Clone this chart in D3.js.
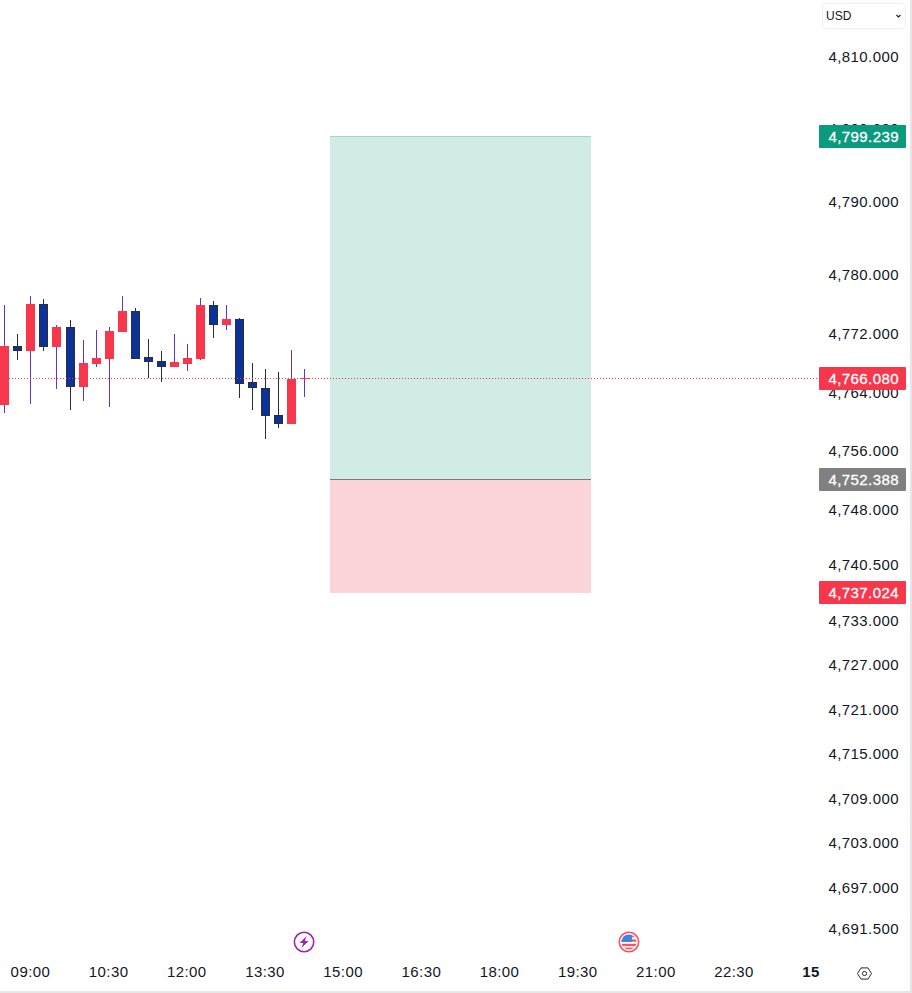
<!DOCTYPE html>
<html>
<head>
<meta charset="utf-8">
<script src="https://cdnjs.cloudflare.com/ajax/libs/d3/7.8.5/d3.min.js"></script>
<style>
  html, body { margin: 0; padding: 0; background: #fff; overflow: hidden; }
  svg { display: block; }
  text { font-family: "Liberation Sans", Arial, sans-serif; }
</style>
</head>
<body>
<svg id="chart" width="912" height="993"></svg>
<script>
// Fifteen-minute bars
const barTimes = ["08:30","08:45","09:00","09:15","09:30","09:45","10:00","10:15","10:30","10:45","11:00","11:15",
                  "11:30","11:45","12:00","12:15","12:30","12:45","13:00","13:15","13:30","13:45","14:00","14:15"];
const opens  = [4762.46,4770.52,4769.87,4776.25,4770.42,4773.11,4764.92,4768.06,4768.74,4772.43,4775.29,4769.01,
                4768.47,4767.65,4768.06,4768.74,4776.11,4773.38,4774.20,4765.60,4764.78,4761.10,4759.87,4766.01];
const highs  = [4776.11,4772.15,4777.34,4776.93,4773.38,4774.07,4771.34,4772.70,4773.11,4777.34,4775.70,4771.47,
                4769.83,4772.15,4770.79,4777.07,4776.66,4776.11,4774.34,4768.20,4767.38,4766.97,4769.97,4767.38];
const lows   = [4761.41,4768.61,4762.60,4769.87,4764.65,4761.78,4763.01,4767.65,4762.19,4772.43,4768.74,4766.15,
                4765.60,4767.65,4767.10,4768.61,4771.61,4772.70,4763.42,4761.78,4757.82,4759.32,4766.01,4763.55];
const closes = [4770.52,4769.87,4776.25,4770.42,4773.11,4764.96,4768.20,4768.88,4772.56,4775.29,4768.74,4768.33,
                4767.65,4768.33,4768.88,4776.11,4773.42,4774.20,4765.33,4764.78,4760.96,4759.87,4766.01,4766.08];

// Price axis and labelled levels
const priceTicks = [4810,4800,4790,4780,4772,4764,4756,4748,4740.5,4733,4727,4721,4715,4709,4703,4697,4691.5];
const lastPrice = 4766.08;
const targetPrice = 4799.239;
const entryPrice = 4752.388;
const stopPrice = 4737.024;

// Time axis labels: hours since midnight, 24 being the next day
const timeTickHours = [9,10.5,12,13.5,15,16.5,18,19.5,21,22.5,24];
const positionSpan = ["14:45","19:45"];
const eventTimes = ["14:15","20:29"];

const colors = { up:"#f7374c", down:"#0b3299", downEdge:"#2a2e39", upWick:"#6634c4", text:"#131722",
                 green:"#0a9a7d", gray:"#808080", greenZone:"#d1ebe6", redZone:"#fbd5d9", rule:"#e6e6e6" };

const svg = d3.select("#chart");
const plotRight = 819;

const dayAt = h => new Date(Date.UTC(2024, 0, 14, 0, h * 60));
const parseTime = s => { const [h, m] = s.split(":").map(Number); return dayAt(h + m / 60); };

const x = d3.scaleUtc().domain([dayAt(9), dayAt(24)]).range([30.43, 812.23]);
const y = d3.scaleLog().domain([4810, 4691.5]).range([57.7, 930]);
const snap = v => Math.round(v) + 0.5;

svg.append("defs").append("clipPath").attr("id", "plot-clip")
  .append("rect").attr("width", plotRight).attr("height", 993);

// Long position zones
const zones = svg.append("g").attr("clip-path", "url(#plot-clip)");
const zoneX0 = Math.round(x(parseTime(positionSpan[0]))), zoneX1 = Math.round(x(parseTime(positionSpan[1])));
const yTarget = Math.round(y(targetPrice)), yEntry = Math.round(y(entryPrice)), yStop = Math.round(y(stopPrice));
zones.append("rect").attr("x", zoneX0).attr("width", zoneX1 - zoneX0)
  .attr("y", yTarget).attr("height", yEntry - yTarget).attr("fill", colors.greenZone);
zones.append("rect").attr("x", zoneX0).attr("width", zoneX1 - zoneX0)
  .attr("y", yEntry).attr("height", yStop - yEntry + 1).attr("fill", colors.redZone);
zones.append("line").attr("x1", zoneX0).attr("x2", zoneX1)
  .attr("y1", yTarget + 0.5).attr("y2", yTarget + 0.5).attr("stroke", "#a4d8cd").attr("stroke-width", 1);
zones.append("line").attr("x1", zoneX0).attr("x2", zoneX1)
  .attr("y1", yEntry + 0.5).attr("y2", yEntry + 0.5).attr("stroke", "#787b80").attr("stroke-width", 1);

// Candlesticks
const bars = barTimes.map((t, i) => ({ t: parseTime(t), o: opens[i], h: highs[i], l: lows[i], c: closes[i] }));
const candles = svg.append("g").selectAll("g").data(bars).join("g")
  .attr("transform", d => `translate(${snap(x(d.t))},0)`);

candles.append("line")
  .attr("y1", d => Math.round(y(d.h))).attr("y2", d => Math.round(y(d.l)))
  .attr("stroke", d => d.c >= d.o ? colors.upWick : colors.downEdge).attr("stroke-width", 1);

candles.filter(d => d.c >= d.o).append("rect")
  .attr("x", -4.5).attr("width", 9)
  .attr("y", d => Math.round(y(d.c)))
  .attr("height", d => Math.max(1, Math.round(y(d.o)) - Math.round(y(d.c))))
  .attr("fill", colors.up);

candles.filter(d => d.c < d.o).append("rect")
  .attr("x", -4).attr("width", 8)
  .attr("y", d => Math.round(y(d.o)) + 0.5)
  .attr("height", d => Math.max(1, Math.round(y(d.c)) - Math.round(y(d.o)) - 1))
  .attr("fill", colors.down).attr("stroke", colors.downEdge).attr("stroke-width", 1);

// Last price line
svg.append("line").attr("x1", 0).attr("x2", plotRight)
  .attr("y1", snap(y(lastPrice) - 0.5)).attr("y2", snap(y(lastPrice) - 0.5))
  .attr("stroke", colors.up).attr("stroke-width", 1).attr("stroke-dasharray", "1 2");

// Price axis
const priceAxis = svg.append("g").attr("transform", "translate(899,-1.5)")
  .call(d3.axisLeft(y).tickValues(priceTicks).tickSize(0).tickPadding(0).tickFormat(d3.format(",.3f")));
priceAxis.select(".domain").remove();
priceAxis.selectAll("text")
  .attr("font-size", 15).attr("letter-spacing", 0.42).attr("fill", colors.text)
  .style("font-family", '"Liberation Sans", Arial, sans-serif');

// Price tags
const tags = [[targetPrice, colors.green], [lastPrice, colors.up], [entryPrice, colors.gray], [stopPrice, colors.up]];
const tagG = svg.append("g").selectAll("g").data(tags).join("g")
  .attr("transform", d => `translate(0,${Math.round(y(d[0]))})`);
tagG.append("rect").attr("x", 819).attr("width", 87).attr("y", -11).attr("height", 23).attr("rx", 1).attr("fill", d => d[1]);
tagG.append("text").attr("x", 899).attr("y", 6).attr("text-anchor", "end")
  .attr("font-size", 15).attr("letter-spacing", 0.42)
  .attr("fill", "#fff").attr("stroke", "#fff").attr("stroke-width", 0.3)
  .text(d => d3.format(",.3f")(d[0]));

// Time axis
const timeAxis = svg.append("g").attr("transform", "translate(0,966.5)")
  .call(d3.axisBottom(x).tickValues(timeTickHours.map(dayAt)).tickSize(0).tickPadding(0)
    .tickFormat(d => d.getUTCHours() === 0 ? d3.utcFormat("%-d")(d) : d3.utcFormat("%H:%M")(d)));
timeAxis.select(".domain").remove();
timeAxis.selectAll("text")
  .attr("font-size", 15).attr("letter-spacing", 0.42).attr("fill", colors.text)
  .style("font-family", '"Liberation Sans", Arial, sans-serif')
  .attr("font-weight", d => d.getUTCHours() === 0 ? 700 : 400)
  .attr("dx", d => d.getUTCHours() === 0 ? -1.7 : -0.5);

// Economic event markers
const eventY = 942;
const bolt = svg.append("g").attr("transform", `translate(${x(parseTime(eventTimes[0]))},${eventY})`);
bolt.append("circle").attr("r", 9.7).attr("fill", "#fff").attr("stroke", "#9c27b0").attr("stroke-width", 1.6);
bolt.append("path").attr("d", "M2.6,-6 L-4.6,1 L-0.8,1 L-2.6,6 L4.6,-1 L0.8,-1 Z").attr("fill", "#9c27b0");

const flag = svg.append("g").attr("transform", `translate(${x(parseTime(eventTimes[1]))},${eventY})`);
svg.select("defs").append("clipPath").attr("id", "flag-clip").append("circle").attr("r", 7.6);
flag.append("circle").attr("r", 9.7).attr("fill", "#fff").attr("stroke", "#f7525f").attr("stroke-width", 1.6);
const flagInner = flag.append("g").attr("clip-path", "url(#flag-clip)");
flagInner.append("rect").attr("x", -8).attr("y", -8).attr("width", 16).attr("height", 16).attr("fill", "#fff");
[-7, -2.6, 1.8, 5.6].forEach(v => flagInner.append("rect").attr("x", -8).attr("y", v).attr("width", 16).attr("height", 2.3).attr("fill", "#f2555f"));
flagInner.append("rect").attr("x", -8).attr("y", -8).attr("width", 11).attr("height", 8).attr("fill", "#3f83e6");

// Currency selector
const currency = svg.append("g");
currency.append("rect").attr("x", 822.5).attr("y", 3.5).attr("width", 83).attr("height", 25).attr("rx", 4)
  .attr("fill", "#fff").attr("stroke", "#eeeeee");
currency.append("text").attr("x", 826).attr("y", 20).attr("font-size", 12).attr("fill", colors.text).text("USD");
currency.append("path").attr("d", "M896.5,15 L898.5,17 L900.5,15").attr("fill", "none").attr("stroke", colors.text).attr("stroke-width", 1.1);

// Scale settings button
const hex = svg.append("g").attr("transform", "translate(864.5,973.5)").attr("fill", "none").attr("stroke", colors.text).attr("stroke-width", 0.9);
hex.append("path").attr("d", "M-7,0 L-3.5,-5.6 L3.5,-5.6 L7,0 L3.5,5.6 L-3.5,5.6 Z");
hex.append("circle").attr("r", 2.1);

// Window edges
svg.append("rect").attr("x", 910).attr("y", 0).attr("width", 2).attr("height", 993).attr("fill", colors.rule);
svg.append("rect").attr("x", 0).attr("y", 991).attr("width", 912).attr("height", 2).attr("fill", colors.rule);
</script>
</body>
</html>
